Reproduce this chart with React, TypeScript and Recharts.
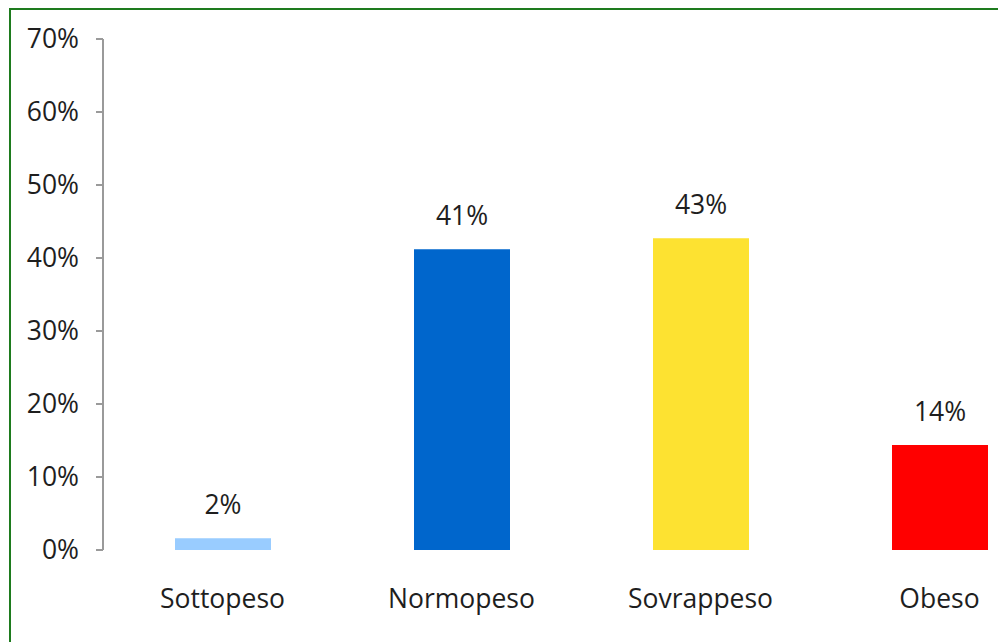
import React from "react";
import { BarChart, Bar, XAxis, YAxis, Cell, LabelList } from "recharts";

const categories = ["Sottopeso", "Normopeso", "Sovrappeso", "Obeso"];
const values = [1.6, 41.2, 42.7, 14.4];
const colors = ["#99CCFF", "#0066CC", "#FDE231", "#FF0000"];
const yTicks = [0, 10, 20, 30, 40, 50, 60, 70];

const data = categories.map((name, i) => ({ name, value: values[i] }));

const FONT = "'Open Sans', 'Noto Sans', sans-serif";
const TEXT = "#1e1e1e";

export default function App() {
  return (
    <div
      style={{
        position: "absolute",
        left: 0,
        top: 0,
        width: 998,
        height: 642,
        overflow: "hidden",
        background: "#fff",
      }}
    >
      <div
        style={{
          position: "absolute",
          left: 9,
          top: 8,
          width: 1100,
          height: 700,
          border: "2px solid #1E7B1E",
          boxSizing: "border-box",
        }}
      />
      <div style={{ position: "absolute", left: 0, top: 0 }}>
        <BarChart
          width={1070}
          height={642}
          data={data}
          margin={{ top: 39, right: 11, bottom: 32, left: 0 }}
          barSize={96}
        >
          <XAxis
            dataKey="name"
            axisLine={false}
            tickLine={false}
            tickSize={0}
            tickMargin={39}
            height={60}
            tick={{ fill: TEXT, fontSize: 26.5, fontFamily: FONT }}
            interval={0}
          />
          <YAxis
            domain={[0, 70]}
            ticks={yTicks}
            tickFormatter={(v: number) => `${v}%`}
            width={103}
            axisLine={{ stroke: "#9A9A9A", strokeWidth: 2 }}
            tickLine={{ stroke: "#9A9A9A", strokeWidth: 2 }}
            tickSize={7}
            tickMargin={17}
            tick={{ fill: TEXT, fontSize: 26.5, fontFamily: FONT }}
            interval={0}
          />
          <Bar dataKey="value" isAnimationActive={false}>
            {data.map((d, i) => (
              <Cell key={d.name} fill={colors[i]} />
            ))}
            <LabelList
              dataKey="value"
              position="top"
              offset={24}
              formatter={(v: number) => `${Math.round(v)}%`}
              style={{ fill: TEXT, fontSize: 26.5, fontFamily: FONT }}
            />
          </Bar>
        </BarChart>
      </div>
    </div>
  );
}
